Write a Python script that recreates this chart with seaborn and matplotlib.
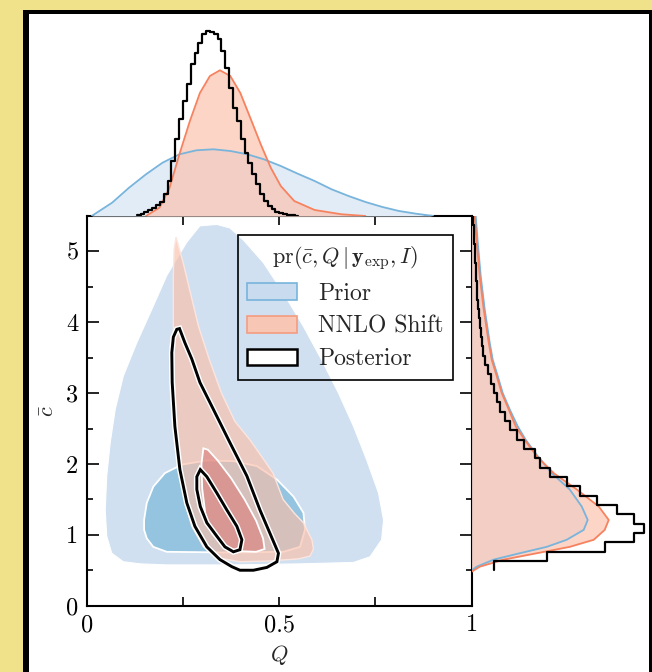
import numpy as np
import pandas as pd
import matplotlib
matplotlib.use("Agg")
import matplotlib.pyplot as plt
import matplotlib.patheffects as pe
from matplotlib.colors import to_rgba
from matplotlib.patches import Patch, Rectangle
import seaborn as sns

# ---- values ----
# marginal of Q (heights in arbitrary units)
q_prior = [0.013, 0.066, 0.11, 0.154, 0.197, 0.241, 0.285, 0.329, 0.373, 0.417, 0.46,
           0.504, 0.548, 0.592, 0.636, 0.68, 0.724, 0.768, 0.811, 0.855, 0.9]
h_prior = [0, 13.3, 28.3, 41.7, 53.3, 61.7, 65.7, 66.7, 65, 61.7, 56.7,
           50, 42.3, 35, 26.7, 20, 14, 9, 5, 2.3, 0]
q_nnlo = [0.154, 0.189, 0.215, 0.241, 0.268, 0.294, 0.32, 0.346, 0.373, 0.399,
          0.425, 0.452, 0.478, 0.504, 0.539, 0.592, 0.662, 0.724]
h_nnlo = [0, 8.3, 28, 62, 95, 123, 140, 145.7, 140, 123,
          98, 71.7, 48.3, 30, 15, 6, 1.7, 0]
q_post_counts = [0.7, 2.3, 3.7, 5.7, 7.7, 10.7, 14.3, 21.7, 35, 55, 76.7, 96.7, 115, 131.7,
                 151.7, 163.3, 173.3, 182.3, 185, 184.3, 181.7, 176.7, 165, 148.3, 128.3,
                 108.3, 95, 76.7, 63.3, 53.3, 41.7, 31.7, 21.7, 15, 10, 6.7, 4.3, 2.7,
                 1.7, 1, 0.7, 0.3]

# marginal of c-bar
c_prior = [0.50, 0.55, 0.65, 0.74, 0.83, 0.93, 1.07, 1.21, 1.40, 1.64, 1.87, 2.11,
           2.34, 2.53, 2.77, 3.0, 3.24, 3.47, 3.71, 4.18, 4.65, 5.13, 5.5]
w_prior = [0, 5, 22, 48, 75, 95, 112, 116, 110, 98, 80, 66,
           54, 46, 38, 31, 26, 21, 18, 13, 9, 6, 4]
c_nnlo = [0.48, 0.55, 0.65, 0.74, 0.83, 0.93, 1.07, 1.21, 1.40, 1.64, 1.87, 2.11,
          2.34, 2.53, 2.77, 3.0, 3.24, 3.47, 3.71, 4.18, 4.65, 5.13, 5.5]
w_nnlo = [0, 8, 32, 65, 98, 122, 133, 137, 127, 105, 82, 65,
          53, 44, 37, 30, 25, 20, 17, 12, 8, 5, 3]
c_post_counts = [22, 75, 133, 162, 172, 162, 145, 125, 108, 95, 78, 68, 63, 52, 45, 38,
                 33, 28, 25, 22, 19, 16, 13, 11.5, 10, 9, 8, 7, 6.5, 5.5, 5, 4.5, 4,
                 3.5, 3, 2.5, 2, 1.5]

# joint credible regions (Q, c-bar outlines)
prior_outer_q = [0.338, 0.294, 0.26, 0.208, 0.169, 0.13, 0.095, 0.074, 0.061, 0.052, 0.048,
                 0.052, 0.065, 0.095, 0.139, 0.208, 0.381, 0.554, 0.693, 0.736, 0.766,
                 0.771, 0.758, 0.727, 0.693, 0.654, 0.61, 0.563, 0.511, 0.459, 0.407, 0.372]
prior_outer_c = [5.38, 5.36, 5.13, 4.66, 4.18, 3.71, 3.24, 2.77, 2.30, 1.83, 1.35,
                 0.98, 0.74, 0.62, 0.59, 0.575, 0.575, 0.59, 0.61, 0.69, 0.93,
                 1.21, 1.59, 2.06, 2.53, 3.0, 3.47, 3.94, 4.41, 4.84, 5.16, 5.33]
prior_inner_q = [0.149, 0.156, 0.173, 0.203, 0.247, 0.312, 0.381, 0.442, 0.494, 0.537,
                 0.563, 0.567, 0.554, 0.511, 0.381, 0.208, 0.173, 0.156, 0.149]
prior_inner_c = [1.21, 1.45, 1.68, 1.87, 1.99, 2.05, 2.04, 1.97, 1.78, 1.54,
                 1.31, 1.07, 0.83, 0.76, 0.75, 0.76, 0.83, 0.95, 1.07]
nnlo_outer_q = [0.232, 0.25, 0.27, 0.29, 0.318, 0.35, 0.385, 0.424, 0.455, 0.484, 0.51,
                0.54, 0.563, 0.585, 0.589, 0.58, 0.55, 0.47, 0.398, 0.346, 0.303, 0.273,
                0.255, 0.242, 0.234, 0.227, 0.225, 0.225, 0.227]
nnlo_outer_c = [5.20, 4.85, 4.4, 3.95, 3.48, 3.0, 2.6, 2.34, 2.1, 1.87, 1.5,
                1.3, 1.17, 0.93, 0.8, 0.7, 0.66, 0.63, 0.62, 0.67, 0.83, 1.12,
                1.45, 1.92, 2.53, 3.24, 3.95, 4.66, 5.03]
nnlo_inner_q = [0.303, 0.298, 0.300, 0.308, 0.325, 0.352, 0.39, 0.44, 0.462, 0.458,
                0.44, 0.41, 0.375, 0.34, 0.315]
nnlo_inner_c = [2.22, 2.0, 1.65, 1.3, 1.02, 0.86, 0.77, 0.76, 0.80, 0.95,
                1.2, 1.5, 1.8, 2.05, 2.2]
post_outer_q = [0.241, 0.255, 0.273, 0.294, 0.329, 0.372, 0.416, 0.45, 0.476, 0.498, 0.494,
                0.468, 0.433, 0.398, 0.377, 0.346, 0.312, 0.281, 0.26, 0.242, 0.229,
                0.222, 0.221, 0.225, 0.234]
post_outer_c = [3.91, 3.71, 3.48, 3.15, 2.77, 2.30, 1.83, 1.35, 1.02, 0.74, 0.62,
                0.54, 0.50, 0.50, 0.55, 0.65, 0.83, 1.12, 1.45, 1.92, 2.53,
                3.15, 3.57, 3.79, 3.90]
post_inner_q = [0.295, 0.312, 0.338, 0.364, 0.39, 0.403, 0.398, 0.381, 0.359, 0.338,
                0.312, 0.295, 0.286, 0.286]
post_inner_c = [1.92, 1.82, 1.59, 1.35, 1.12, 0.93, 0.79, 0.76, 0.83, 0.98,
                1.17, 1.40, 1.64, 1.82]

q_ticks = [0, 0.25, 0.5, 0.75, 1]
q_ticklabels = ["0", "", "0.5", "", "1"]
c_ticks = [0, 1, 2, 3, 4, 5]
c_ticklabels = ["0", "1", "2", "3", "4", "5"]
legend_labels = ["Prior", "NNLO Shift", "Posterior"]
legend_title = r"$\mathrm{pr}(\bar{c}, Q\,|\,\mathbf{y}_{\mathrm{exp}}, I)$"

# bin layout of the posterior histograms
q_edges = np.linspace(0.13, 0.55, len(q_post_counts) + 1)
c_edges = np.linspace(0.5, 5.5, len(c_post_counts) + 1)
q_hist = pd.DataFrame({"Q": 0.5 * (q_edges[1:] + q_edges[:-1]), "n": q_post_counts})
c_hist = pd.DataFrame({"c": 0.5 * (c_edges[1:] + c_edges[:-1]), "n": c_post_counts})

sns.set_style("ticks")
plt.rcParams["font.family"] = ["cmr10", "DejaVu Serif"]
plt.rcParams["mathtext.fontset"] = "cm"
plt.rcParams["axes.formatter.use_mathtext"] = True

blue_light = "#d0e0f1"
blue_mid = "#94c4e0"
blue_line = "#78b4dc"
red_light = "#fbbfa9"
red_mid = "#db7c79"
red_line = "#f7825f"

fig = plt.figure(figsize=(6.52, 6.72), dpi=100, facecolor="#f0e18b")
fig.patches.append(Rectangle((0.0353, -0.1), 1.0, 1.0851, transform=fig.transFigure,
                             facecolor="black", edgecolor="none", zorder=-2))
fig.patches.append(Rectangle((0.0445, -0.1), 0.9509, 1.0792, transform=fig.transFigure,
                             facecolor="white", edgecolor="none", zorder=-1))

ax = fig.add_axes([0.133, 0.0987, 0.5905, 0.58])
ax_top = fig.add_axes([0.133, 0.6786, 0.5905, 0.2842])
ax_right = fig.add_axes([0.7235, 0.0987, 0.273, 0.58])
for a in (ax_top, ax_right):
    a.set_facecolor("none")
    sns.despine(ax=a, left=True, bottom=True)
ax.set_facecolor("none")

# joint regions
ax.fill(prior_outer_q, prior_outer_c, facecolor=blue_light, edgecolor="white", lw=0.8, zorder=1)
ax.fill(prior_inner_q, prior_inner_c, facecolor=blue_mid, edgecolor="white", lw=1.3, zorder=1.1)
ax.fill(nnlo_outer_q, nnlo_outer_c, facecolor=to_rgba(red_light, 0.65), edgecolor="#fbe6df",
        lw=1.0, zorder=1.2)
ax.fill(nnlo_inner_q, nnlo_inner_c, facecolor=to_rgba(red_mid, 0.6), edgecolor="white",
        lw=1.3, zorder=1.3)
halo = [pe.Stroke(linewidth=4.2, foreground="white"), pe.Normal()]
for qq, cc in [(post_outer_q, post_outer_c), (post_inner_q, post_inner_c)]:
    ax.fill(qq, cc, facecolor="none", edgecolor="black", lw=2.1, zorder=2, path_effects=halo)

ax.set_xlim(0, 1)
ax.set_ylim(0, 5.5)
ax.set_xticks(q_ticks)
ax.set_xticklabels(q_ticklabels)
ax.set_yticks(c_ticks)
ax.set_yticklabels(c_ticklabels)
ax.set_yticks(np.arange(0.5, 5.5, 1.0), minor=True)
ax.tick_params(which="both", direction="in", top=True, right=True, width=1.2,
               labelsize=17.5, colors="black")
ax.tick_params(axis="x", which="major", length=6.5, pad=6)
ax.tick_params(axis="y", which="major", length=8.5, pad=6)
ax.tick_params(axis="y", which="minor", length=4.5)
for s in ax.spines.values():
    s.set_linewidth(1.5)
    s.set_color("black")
ax.set_xlabel("$Q$", fontsize=16, labelpad=5)
ax.set_ylabel(r"$\bar{c}$", fontsize=16, labelpad=6)

handles = [Patch(facecolor="#c9dcef", edgecolor=blue_line, lw=1.2, label=legend_labels[0]),
           Patch(facecolor="#f8c6b4", edgecolor="#f59c80", lw=1.2, label=legend_labels[1]),
           Patch(facecolor="white", edgecolor="black", lw=1.8, label=legend_labels[2])]
leg = ax.legend(handles=handles, title=legend_title, loc="upper right", fontsize=17,
                title_fontsize=16, fancybox=False, facecolor="none", edgecolor="black",
                framealpha=1, borderaxespad=0.8, handlelength=2.1, handleheight=0.7,
                handletextpad=0.9, labelspacing=0.45, borderpad=0.4)
leg.get_frame().set_linewidth(1.2)
leg.set_zorder(5)

# top marginal (Q)
ax_top.fill_between(q_prior, h_prior, color="#e2ecf6", lw=0)
ax_top.fill_between(q_nnlo, h_nnlo, color=red_light, alpha=0.65, lw=0)
sns.lineplot(x=q_prior, y=h_prior, ax=ax_top, color=blue_line, lw=1.3)
sns.lineplot(x=q_nnlo, y=h_nnlo, ax=ax_top, color=red_line, lw=1.3)
sns.histplot(data=q_hist, x="Q", weights="n", bins=q_edges.tolist(), element="step",
             fill=False, color="black", lw=1.6, ax=ax_top)
ax_top.set_xlim(0, 1)
ax_top.set_ylim(0, 191)

# right marginal (c-bar)
ax_right.fill_betweenx(c_prior, w_prior, color="#e2ecf6", lw=0)
ax_right.fill_betweenx(c_nnlo, w_nnlo, color=red_light, alpha=0.65, lw=0)
sns.lineplot(x=w_prior, y=c_prior, sort=False, estimator=None, ax=ax_right, color=blue_line, lw=1.3)
sns.lineplot(x=w_nnlo, y=c_nnlo, sort=False, estimator=None, ax=ax_right, color=red_line, lw=1.3)
sns.histplot(data=c_hist, y="c", weights="n", bins=c_edges.tolist(), element="step",
             fill=False, color="black", lw=1.6, ax=ax_right)
ax_right.set_xlim(0, 178)
ax_right.set_ylim(0, 5.5)

for a in (ax_top, ax_right):
    a.set_xticks([])
    a.set_yticks([])
    a.set_xlabel("")
    a.set_ylabel("")

fig.savefig("out.png", dpi=100, facecolor=fig.get_facecolor())
